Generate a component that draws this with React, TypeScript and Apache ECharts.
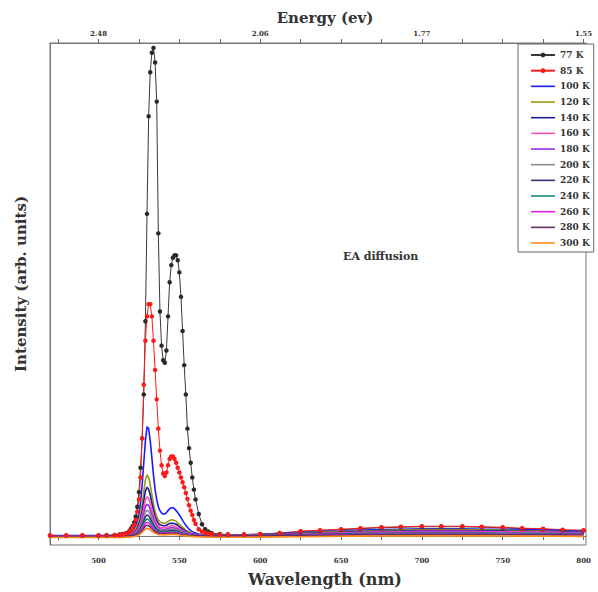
import React, { useEffect, useRef } from 'react';
import * as echarts from 'echarts';

// Wavelength sample points (nm)
const WL = [
  470, 480, 490, 500, 505, 510, 513, 515, 517, 519,
  520, 521, 522, 523, 524, 525, 526, 527, 528, 529,
  530, 531, 532, 533, 534, 535, 536, 537, 538, 539,
  540, 541, 542, 543, 544, 545, 546, 547, 548, 549,
  550, 551, 552, 553, 554, 555, 556, 557, 558, 559,
  560, 562, 564, 566, 568, 570, 575, 580, 590, 600,
  612, 625, 637, 650, 662, 675, 687, 700, 712, 725,
  737, 750, 762, 775, 787, 800,
];

const I_77K = [
  0.1, 0.1, 0.1, 0.1, 0.15, 0.2, 0.3, 0.4, 0.6, 1.0,
  1.5, 2.0, 2.8, 4, 6, 9, 14, 20, 29, 44,
  66, 86, 95, 99, 100, 97, 89, 62, 46, 39,
  36, 35.5, 38, 45, 52, 55.5, 57, 57.5, 57.5, 56.5,
  54, 49, 42, 35, 29, 22, 18, 15, 12, 9.5,
  7.5, 4.5, 2.4, 1.4, 0.9, 0.6, 0.4, 0.3, 0.3, 0.4,
  0.6, 0.9, 1.1, 1.3, 1.5, 1.7, 1.8, 1.9, 1.9, 1.9,
  1.8, 1.7, 1.5, 1.4, 1.2, 1.1,
];

const I_85K = [
  0.1, 0.1, 0.1, 0.1, 0.1, 0.15, 0.2, 0.3, 0.5, 0.8,
  1.1, 1.6, 2.3, 3.3, 5, 7.5, 12, 20, 31, 40,
  45, 47.5, 47.5, 45, 40, 34, 28, 22, 17.5, 14.5,
  12.8, 12.3, 13, 14.5, 15.8, 16.3, 16.3, 15.8, 15, 14,
  13, 12, 11, 10, 8.8, 7.6, 6.3, 5.2, 4.3, 3.3,
  2.5, 1.4, 0.9, 0.7, 0.5, 0.4, 0.3, 0.3, 0.3, 0.4,
  0.6, 1.0, 1.2, 1.4, 1.6, 1.8, 1.9, 2.0, 2.0, 2.0,
  1.9, 1.8, 1.6, 1.5, 1.3, 1.2,
];

const I_100K = [
  0.1, 0.1, 0.1, 0.1, 0.1, 0.1, 0.15, 0.2, 0.35, 0.6,
  0.8, 1.1, 1.5, 2.1, 3, 4.5, 6.8, 10.5, 15, 19.5,
  22.4, 22, 19.5, 16, 12.5, 9.5, 7.5, 6, 5.2, 4.7,
  4.5, 4.5, 4.8, 5.2, 5.6, 5.8, 5.8, 5.6, 5.2, 4.8,
  4.3, 3.8, 3.2, 2.7, 2.2, 1.8, 1.4, 1.1, 0.9, 0.7,
  0.6, 0.4, 0.3, 0.25, 0.2, 0.2, 0.2, 0.2, 0.2, 0.3,
  0.5, 0.7, 0.9, 1.0, 1.2, 1.3, 1.4, 1.5, 1.5, 1.5,
  1.4, 1.4, 1.3, 1.2, 1.1, 1.0,
];

const I_120K = [
  0.05, 0.05, 0.05, 0.05, 0.05, 0.1, 0.1, 0.15, 0.25, 0.4,
  0.55, 0.75, 1.0, 1.4, 2.0, 3.0, 4.4, 6.5, 9, 11.5,
  12.5, 12, 10.5, 8.5, 6.6, 5.0, 4.0, 3.3, 2.9, 2.7,
  2.6, 2.6, 2.8, 3.0, 3.2, 3.3, 3.3, 3.2, 3.0, 2.7,
  2.4, 2.1, 1.8, 1.5, 1.2, 1.0, 0.8, 0.6, 0.5, 0.4,
  0.35, 0.25, 0.2, 0.15, 0.15, 0.15, 0.15, 0.15, 0.2, 0.25,
  0.4, 0.6, 0.8, 0.9, 1.0, 1.1, 1.2, 1.3, 1.3, 1.3,
  1.2, 1.2, 1.1, 1.0, 0.9, 0.9,
];

const I_140K = [
  0.05, 0.05, 0.05, 0.05, 0.05, 0.08, 0.1, 0.12, 0.2, 0.32,
  0.45, 0.6, 0.8, 1.1, 1.6, 2.4, 3.5, 5.2, 7.2, 9.2,
  10, 9.6, 8.4, 6.8, 5.3, 4.0, 3.2, 2.6, 2.3, 2.2,
  2.1, 2.1, 2.2, 2.4, 2.6, 2.6, 2.6, 2.5, 2.4, 2.2,
  1.9, 1.7, 1.4, 1.2, 1.0, 0.8, 0.6, 0.5, 0.4, 0.35,
  0.3, 0.2, 0.15, 0.12, 0.1, 0.1, 0.1, 0.1, 0.15, 0.2,
  0.35, 0.5, 0.65, 0.75, 0.85, 0.95, 1.0, 1.1, 1.1, 1.1,
  1.05, 1.0, 0.95, 0.9, 0.85, 0.8,
];

const I_160K = [
  0.05, 0.05, 0.05, 0.05, 0.05, 0.07, 0.08, 0.1, 0.16, 0.25,
  0.35, 0.48, 0.65, 0.9, 1.3, 1.9, 2.8, 4.2, 5.8, 7.4,
  8, 7.7, 6.7, 5.4, 4.2, 3.2, 2.5, 2.1, 1.8, 1.7,
  1.7, 1.7, 1.8, 1.9, 2.0, 2.1, 2.1, 2.0, 1.9, 1.7,
  1.5, 1.3, 1.1, 0.95, 0.8, 0.65, 0.5, 0.4, 0.33, 0.28,
  0.24, 0.16, 0.12, 0.1, 0.08, 0.08, 0.08, 0.08, 0.12, 0.18,
  0.3, 0.42, 0.55, 0.65, 0.75, 0.82, 0.88, 0.95, 0.95, 0.95,
  0.92, 0.88, 0.84, 0.8, 0.75, 0.72,
];

const I_180K = [
  0.04, 0.04, 0.04, 0.04, 0.04, 0.06, 0.07, 0.09, 0.13, 0.2,
  0.28, 0.39, 0.53, 0.72, 1.05, 1.55, 2.3, 3.4, 4.7, 6.0,
  6.5, 6.25, 5.45, 4.4, 3.45, 2.6, 2.05, 1.7, 1.5, 1.4,
  1.35, 1.35, 1.45, 1.55, 1.65, 1.7, 1.7, 1.65, 1.55, 1.4,
  1.25, 1.1, 0.9, 0.78, 0.65, 0.52, 0.42, 0.33, 0.27, 0.23,
  0.2, 0.14, 0.1, 0.08, 0.07, 0.07, 0.07, 0.07, 0.1, 0.15,
  0.26, 0.36, 0.47, 0.56, 0.64, 0.7, 0.76, 0.8, 0.8, 0.8,
  0.78, 0.75, 0.72, 0.68, 0.64, 0.6,
];

const I_200K = [
  0.03, 0.03, 0.03, 0.03, 0.03, 0.05, 0.06, 0.07, 0.1, 0.16,
  0.23, 0.32, 0.43, 0.59, 0.85, 1.27, 1.86, 2.75, 3.8, 4.9,
  5.3, 5.1, 4.45, 3.6, 2.8, 2.12, 1.7, 1.38, 1.22, 1.15,
  1.1, 1.1, 1.17, 1.27, 1.35, 1.38, 1.38, 1.33, 1.27, 1.17,
  1.0, 0.9, 0.75, 0.64, 0.53, 0.42, 0.34, 0.27, 0.22, 0.19,
  0.16, 0.11, 0.08, 0.07, 0.06, 0.06, 0.06, 0.06, 0.08, 0.12,
  0.22, 0.3, 0.4, 0.48, 0.55, 0.6, 0.65, 0.68, 0.68, 0.68,
  0.66, 0.64, 0.61, 0.58, 0.55, 0.52,
];

const I_220K = [
  0.03, 0.03, 0.03, 0.03, 0.03, 0.04, 0.05, 0.06, 0.08, 0.13,
  0.19, 0.26, 0.35, 0.48, 0.69, 1.03, 1.5, 2.23, 3.1, 3.95,
  4.3, 4.13, 3.6, 2.92, 2.28, 1.72, 1.38, 1.12, 0.99, 0.93,
  0.9, 0.9, 0.95, 1.03, 1.1, 1.12, 1.12, 1.08, 1.03, 0.95,
  0.82, 0.73, 0.6, 0.52, 0.43, 0.34, 0.27, 0.22, 0.18, 0.15,
  0.13, 0.09, 0.07, 0.06, 0.05, 0.05, 0.05, 0.05, 0.07, 0.1,
  0.18, 0.25, 0.33, 0.4, 0.46, 0.5, 0.54, 0.57, 0.57, 0.57,
  0.55, 0.53, 0.5, 0.48, 0.45, 0.43,
];

const I_240K = [
  0.02, 0.02, 0.02, 0.02, 0.02, 0.03, 0.04, 0.05, 0.07, 0.1,
  0.15, 0.21, 0.28, 0.39, 0.56, 0.84, 1.22, 1.82, 2.52, 3.2,
  3.5, 3.36, 2.94, 2.38, 1.85, 1.4, 1.12, 0.91, 0.8, 0.76,
  0.74, 0.74, 0.77, 0.84, 0.9, 0.91, 0.91, 0.88, 0.84, 0.77,
  0.67, 0.6, 0.49, 0.42, 0.35, 0.28, 0.22, 0.18, 0.14, 0.12,
  0.1, 0.07, 0.05, 0.05, 0.04, 0.04, 0.04, 0.04, 0.06, 0.08,
  0.15, 0.2, 0.27, 0.32, 0.37, 0.41, 0.44, 0.46, 0.46, 0.46,
  0.45, 0.43, 0.41, 0.39, 0.37, 0.35,
];

const I_260K = [
  0.02, 0.02, 0.02, 0.02, 0.02, 0.02, 0.03, 0.04, 0.06, 0.08,
  0.12, 0.17, 0.22, 0.31, 0.45, 0.67, 0.98, 1.45, 2.0, 2.58,
  2.8, 2.69, 2.35, 1.9, 1.48, 1.12, 0.9, 0.73, 0.64, 0.6,
  0.59, 0.59, 0.62, 0.67, 0.72, 0.73, 0.73, 0.7, 0.67, 0.62,
  0.53, 0.48, 0.39, 0.34, 0.28, 0.22, 0.18, 0.14, 0.11, 0.1,
  0.08, 0.06, 0.04, 0.04, 0.03, 0.03, 0.03, 0.03, 0.05, 0.07,
  0.12, 0.16, 0.21, 0.26, 0.3, 0.33, 0.35, 0.37, 0.37, 0.37,
  0.36, 0.35, 0.33, 0.31, 0.3, 0.28,
];

const I_280K = [
  0.01, 0.01, 0.01, 0.01, 0.01, 0.02, 0.02, 0.03, 0.04, 0.06,
  0.1, 0.13, 0.18, 0.24, 0.35, 0.53, 0.77, 1.14, 1.58, 2.02,
  2.2, 2.11, 1.85, 1.5, 1.17, 0.88, 0.7, 0.57, 0.5, 0.48,
  0.46, 0.46, 0.48, 0.53, 0.57, 0.57, 0.57, 0.55, 0.53, 0.48,
  0.42, 0.37, 0.31, 0.26, 0.22, 0.18, 0.14, 0.11, 0.09, 0.08,
  0.07, 0.05, 0.03, 0.03, 0.02, 0.02, 0.02, 0.02, 0.04, 0.06,
  0.1, 0.13, 0.17, 0.2, 0.23, 0.26, 0.28, 0.29, 0.29, 0.29,
  0.28, 0.27, 0.26, 0.25, 0.23, 0.22,
];

const I_300K = [
  -0.3, -0.3, -0.3, -0.3, -0.3, -0.29, -0.28, -0.27, -0.25, -0.22,
  -0.18, -0.15, -0.1, -0.03, 0.08, 0.24, 0.46, 0.78, 1.1, 1.42,
  1.55, 1.48, 1.28, 1.02, 0.78, 0.56, 0.42, 0.32, 0.27, 0.25,
  0.24, 0.24, 0.26, 0.29, 0.32, 0.33, 0.33, 0.31, 0.29, 0.26,
  0.21, 0.17, 0.12, 0.08, 0.04, 0.0, -0.04, -0.07, -0.1, -0.12,
  -0.14, -0.17, -0.2, -0.22, -0.23, -0.24, -0.25, -0.25, -0.24, -0.22,
  -0.18, -0.14, -0.1, -0.06, -0.03, 0.0, 0.02, 0.03, 0.03, 0.03,
  0.02, 0.0, -0.02, -0.04, -0.06, -0.08,
];

const TEMPS = ['77 K', '85 K', '100 K', '120 K', '140 K', '160 K', '180 K', '200 K', '220 K', '240 K', '260 K', '280 K', '300 K'];
const COLORS = ['#3a3a3a', '#ff1a1a', '#1a1aff', '#9a9a10', '#1c1c9c', '#ff4fb0', '#9a30e0', '#8c8c8c', '#34347a', '#138a7a', '#e81ee8', '#6a2a6a', '#ff8a1a'];

const X_TICKS = [475, 500, 525, 550, 575, 600, 625, 650, 675, 700, 725, 750, 775, 800];
const BOTTOM_LABELS = [500, 550, 600, 650, 700, 750, 800];
const TOP_LABEL_POS = [500, 600, 700, 800];
const TOP_LABELS = ['2.48', '2.06', '1.77', '1.55'];

const FONT = '"DejaVu Serif", "Liberation Serif", serif';
const LINE_ICON = 'path://M0,0 L24,0 L24,1.6 L0,1.6 Z';

export default function App() {
  const ref = useRef<HTMLDivElement>(null);

  useEffect(() => {
    if (!ref.current) return;
    const chart = echarts.init(ref.current, null, { renderer: 'svg' });
    const all = [I_77K, I_85K, I_100K, I_120K, I_140K, I_160K, I_180K, I_200K, I_220K, I_240K, I_260K, I_280K, I_300K];

    const series = TEMPS.map((name, k) => ({
      name,
      type: 'line',
      data: WL.map((x, i) => [x, all[k][i]]),
      symbol: k < 2 ? 'circle' : 'none',
      symbolSize: k < 2 ? 4.5 : 0,
      showSymbol: k < 2,
      lineStyle: { color: COLORS[k], width: k < 2 ? 1 : 1.6 },
      itemStyle: { color: k === 0 ? '#2a2a2a' : COLORS[k] },
      emphasis: { disabled: true },
    }));

    const legendData = TEMPS.map((name, k) =>
      k < 2 ? { name } : { name, icon: LINE_ICON, itemStyle: { color: COLORS[k] } }
    );

    const axisCommon = {
      type: 'value',
      min: 470,
      max: 801.5,
      splitLine: { show: false },
      axisLine: { show: true, lineStyle: { color: '#777', width: 1 } },
    };

    chart.setOption({
      animation: false,
      backgroundColor: '#ffffff',
      grid: { left: 50, right: 12, top: 43, bottom: 45, show: true, borderColor: '#777', borderWidth: 1 },
      xAxis: [
        {
          ...axisCommon,
          position: 'bottom',
          axisTick: { show: true, inside: false, length: 4, customValues: X_TICKS, lineStyle: { color: '#666' } },
          axisLabel: {
            customValues: BOTTOM_LABELS,
            margin: 12,
            fontSize: 7,
            fontWeight: 'bold',
            fontFamily: FONT,
            color: '#333',
          },
          name: 'Wavelength (nm)',
          nameLocation: 'middle',
          nameGap: 26,
          nameTextStyle: { fontSize: 16, fontWeight: 'bold', fontFamily: FONT, color: '#333', padding: [0, 0, 0, 14] },
        },
        {
          ...axisCommon,
          position: 'top',
          axisTick: { show: true, inside: false, length: 4, customValues: X_TICKS, lineStyle: { color: '#666' } },
          axisLabel: {
            customValues: TOP_LABEL_POS,
            formatter: (v: number) => {
              const idx = TOP_LABEL_POS.indexOf(Math.round(v));
              return idx >= 0 ? TOP_LABELS[idx] : '';
            },
            margin: 6,
            fontSize: 7,
            fontWeight: 'bold',
            fontFamily: FONT,
            color: '#333',
          },
          name: 'Energy (ev)',
          nameLocation: 'middle',
          nameGap: 15,
          nameTextStyle: { fontSize: 15, fontWeight: 'bold', fontFamily: FONT, color: '#333', padding: [0, 0, 0, 14] },
        },
      ],
      yAxis: {
        type: 'value',
        min: -1.84,
        max: 101,
        splitLine: { show: false },
        axisLine: { show: true, lineStyle: { color: '#777' } },
        axisTick: { show: false },
        axisLabel: { show: false },
        name: 'Intensity (arb. units)',
        nameLocation: 'middle',
        nameGap: 22,
        nameTextStyle: { fontSize: 15, fontWeight: 'bold', fontFamily: FONT, color: '#333', padding: [0, 0, 0, 20] },
      },
      legend: {
        orient: 'vertical',
        left: 518,
        top: 44,
        itemWidth: 24,
        itemHeight: 6,
        itemGap: 4.67,
        padding: [5.5, 4, 3.5, 12],
        borderColor: '#666',
        borderWidth: 1,
        backgroundColor: '#ffffff',
        symbolKeepAspect: true,
        textStyle: { fontFamily: FONT, fontWeight: 'bold', fontSize: 9, color: '#333', lineHeight: 11 },
        data: legendData,
      },
      graphic: [
        {
          type: 'text',
          left: 343,
          top: 251,
          style: { text: 'EA diffusion', font: `bold 11px ${FONT}`, fill: '#333' },
        },
      ],
      series,
    });

    return () => chart.dispose();
  }, []);

  return <div ref={ref} style={{ position: 'fixed', left: 0, top: 0, width: 598, height: 592 }} />;
}
